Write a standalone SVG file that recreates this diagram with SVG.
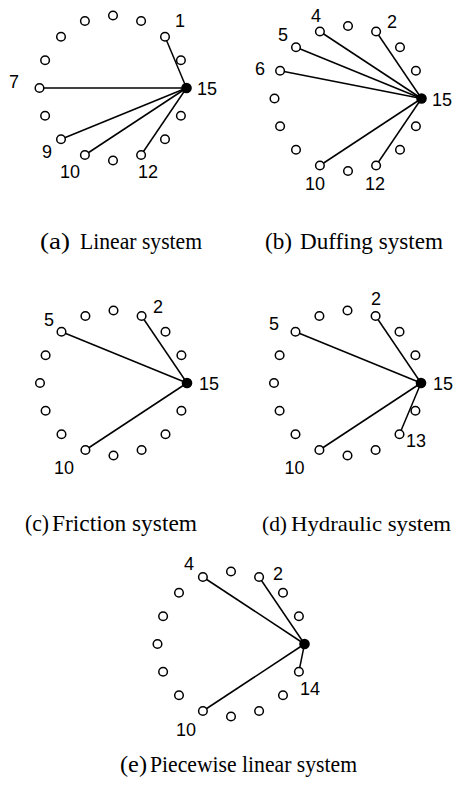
<svg xmlns="http://www.w3.org/2000/svg" width="456" height="785" viewBox="0 0 456 785">
<style>
.n{fill:#fff;stroke:#000;stroke-width:1.5}
.hub{fill:#000;stroke:none}
.e{stroke:#000;stroke-width:1.5;fill:none}
.l{font-family:"Liberation Sans",Arial,sans-serif;font-size:18px;fill:#000}
.c{font-family:"Liberation Serif","Times New Roman",serif;font-size:23px;fill:#000}
</style>
<rect width="456" height="785" fill="#fff"/>

<!-- Panel (a) -->
<g id="panel-a" transform="translate(113,88)">
<g id="a-connectors">
<line class="e" x1="73.5" y1="0" x2="52" y2="-51.3"/>
<line class="e" x1="73.5" y1="0" x2="-73.5" y2="0"/>
<line class="e" x1="73.5" y1="0" x2="-52" y2="51.3"/>
<line class="e" x1="73.5" y1="0" x2="-28.1" y2="67"/>
<line class="e" x1="73.5" y1="0" x2="28.1" y2="67"/>
</g>
<g id="a-n0"><circle class="n" cx="67.9" cy="-27.7" r="4.3"/></g>
<g id="a-n1"><circle class="n" cx="52" cy="-51.3" r="4.3"/><text class="l" x="67" y="-61" text-anchor="middle">1</text></g>
<g id="a-n2"><circle class="n" cx="28.1" cy="-67" r="4.3"/></g>
<g id="a-n3"><circle class="n" cx="0" cy="-72.5" r="4.3"/></g>
<g id="a-n4"><circle class="n" cx="-28.1" cy="-67" r="4.3"/></g>
<g id="a-n5"><circle class="n" cx="-52" cy="-51.3" r="4.3"/></g>
<g id="a-n6"><circle class="n" cx="-67.9" cy="-27.7" r="4.3"/></g>
<g id="a-n7"><circle class="n" cx="-73.5" cy="0" r="4.3"/><text class="l" x="-99" y="0" text-anchor="middle">7</text></g>
<g id="a-n8"><circle class="n" cx="-67.9" cy="27.7" r="4.3"/></g>
<g id="a-n9"><circle class="n" cx="-52" cy="51.3" r="4.3"/><text class="l" x="-66" y="70" text-anchor="middle">9</text></g>
<g id="a-n10"><circle class="n" cx="-28.1" cy="67" r="4.3"/><text class="l" x="-43" y="90" text-anchor="middle">10</text></g>
<g id="a-n11"><circle class="n" cx="0" cy="72.5" r="4.3"/></g>
<g id="a-n12"><circle class="n" cx="28.1" cy="67" r="4.3"/><text class="l" x="35" y="90" text-anchor="middle">12</text></g>
<g id="a-n13"><circle class="n" cx="52" cy="51.3" r="4.3"/></g>
<g id="a-n14"><circle class="n" cx="67.9" cy="27.7" r="4.3"/></g>
<g id="a-n15"><circle class="hub" cx="73.5" cy="0" r="5.3"/><text class="l" x="84" y="7">15</text></g>
</g>

<!-- Panel (b) -->
<g id="panel-b" transform="translate(348,98.5)">
<g id="b-connectors">
<line class="e" x1="73.5" y1="0" x2="28.1" y2="-67"/>
<line class="e" x1="73.5" y1="0" x2="-28.1" y2="-67"/>
<line class="e" x1="73.5" y1="0" x2="-52" y2="-51.3"/>
<line class="e" x1="73.5" y1="0" x2="-67.9" y2="-27.7"/>
<line class="e" x1="73.5" y1="0" x2="-28.1" y2="67"/>
<line class="e" x1="73.5" y1="0" x2="28.1" y2="67"/>
</g>
<g id="b-n0"><circle class="n" cx="67.9" cy="-27.7" r="4.3"/></g>
<g id="b-n1"><circle class="n" cx="52" cy="-51.3" r="4.3"/></g>
<g id="b-n2"><circle class="n" cx="28.1" cy="-67" r="4.3"/><text class="l" x="44" y="-70.5" text-anchor="middle">2</text></g>
<g id="b-n3"><circle class="n" cx="0" cy="-72.5" r="4.3"/></g>
<g id="b-n4"><circle class="n" cx="-28.1" cy="-67" r="4.3"/><text class="l" x="-32" y="-76.5" text-anchor="middle">4</text></g>
<g id="b-n5"><circle class="n" cx="-52" cy="-51.3" r="4.3"/><text class="l" x="-65" y="-57.5" text-anchor="middle">5</text></g>
<g id="b-n6"><circle class="n" cx="-67.9" cy="-27.7" r="4.3"/><text class="l" x="-88" y="-23.5" text-anchor="middle">6</text></g>
<g id="b-n7"><circle class="n" cx="-73.5" cy="0" r="4.3"/></g>
<g id="b-n8"><circle class="n" cx="-67.9" cy="27.7" r="4.3"/></g>
<g id="b-n9"><circle class="n" cx="-52" cy="51.3" r="4.3"/></g>
<g id="b-n10"><circle class="n" cx="-28.1" cy="67" r="4.3"/><text class="l" x="-33" y="91" text-anchor="middle">10</text></g>
<g id="b-n11"><circle class="n" cx="0" cy="72.5" r="4.3"/></g>
<g id="b-n12"><circle class="n" cx="28.1" cy="67" r="4.3"/><text class="l" x="27" y="91" text-anchor="middle">12</text></g>
<g id="b-n13"><circle class="n" cx="52" cy="51.3" r="4.3"/></g>
<g id="b-n14"><circle class="n" cx="67.9" cy="27.7" r="4.3"/></g>
<g id="b-n15"><circle class="hub" cx="73.5" cy="0" r="5.3"/><text class="l" x="84" y="7.5">15</text></g>
</g>

<!-- Panel (c) -->
<g id="panel-c" transform="translate(113.5,383)">
<g id="c-connectors">
<line class="e" x1="73.5" y1="0" x2="28.1" y2="-67"/>
<line class="e" x1="73.5" y1="0" x2="-52" y2="-51.3"/>
<line class="e" x1="73.5" y1="0" x2="-28.1" y2="67"/>
</g>
<g id="c-n0"><circle class="n" cx="67.9" cy="-27.7" r="4.3"/></g>
<g id="c-n1"><circle class="n" cx="52" cy="-51.3" r="4.3"/></g>
<g id="c-n2"><circle class="n" cx="28.1" cy="-67" r="4.3"/><text class="l" x="44.5" y="-70" text-anchor="middle">2</text></g>
<g id="c-n3"><circle class="n" cx="0" cy="-72.5" r="4.3"/></g>
<g id="c-n4"><circle class="n" cx="-28.1" cy="-67" r="4.3"/></g>
<g id="c-n5"><circle class="n" cx="-52" cy="-51.3" r="4.3"/><text class="l" x="-64.5" y="-57" text-anchor="middle">5</text></g>
<g id="c-n6"><circle class="n" cx="-67.9" cy="-27.7" r="4.3"/></g>
<g id="c-n7"><circle class="n" cx="-73.5" cy="0" r="4.3"/></g>
<g id="c-n8"><circle class="n" cx="-67.9" cy="27.7" r="4.3"/></g>
<g id="c-n9"><circle class="n" cx="-52" cy="51.3" r="4.3"/></g>
<g id="c-n10"><circle class="n" cx="-28.1" cy="67" r="4.3"/><text class="l" x="-49.5" y="91" text-anchor="middle">10</text></g>
<g id="c-n11"><circle class="n" cx="0" cy="72.5" r="4.3"/></g>
<g id="c-n12"><circle class="n" cx="28.1" cy="67" r="4.3"/></g>
<g id="c-n13"><circle class="n" cx="52" cy="51.3" r="4.3"/></g>
<g id="c-n14"><circle class="n" cx="67.9" cy="27.7" r="4.3"/></g>
<g id="c-n15"><circle class="hub" cx="73.5" cy="0" r="5.3"/><text class="l" x="85.5" y="7">15</text></g>
</g>

<!-- Panel (d) -->
<g id="panel-d" transform="translate(347.5,383)">
<g id="d-connectors">
<line class="e" x1="73.5" y1="0" x2="28.1" y2="-67"/>
<line class="e" x1="73.5" y1="0" x2="-52" y2="-51.3"/>
<line class="e" x1="73.5" y1="0" x2="-28.1" y2="67"/>
<line class="e" x1="73.5" y1="0" x2="52" y2="51.3"/>
</g>
<g id="d-n0"><circle class="n" cx="67.9" cy="-27.7" r="4.3"/></g>
<g id="d-n1"><circle class="n" cx="52" cy="-51.3" r="4.3"/></g>
<g id="d-n2"><circle class="n" cx="28.1" cy="-67" r="4.3"/><text class="l" x="28.5" y="-78" text-anchor="middle">2</text></g>
<g id="d-n3"><circle class="n" cx="0" cy="-72.5" r="4.3"/></g>
<g id="d-n4"><circle class="n" cx="-28.1" cy="-67" r="4.3"/></g>
<g id="d-n5"><circle class="n" cx="-52" cy="-51.3" r="4.3"/><text class="l" x="-73.5" y="-53" text-anchor="middle">5</text></g>
<g id="d-n6"><circle class="n" cx="-67.9" cy="-27.7" r="4.3"/></g>
<g id="d-n7"><circle class="n" cx="-73.5" cy="0" r="4.3"/></g>
<g id="d-n8"><circle class="n" cx="-67.9" cy="27.7" r="4.3"/></g>
<g id="d-n9"><circle class="n" cx="-52" cy="51.3" r="4.3"/></g>
<g id="d-n10"><circle class="n" cx="-28.1" cy="67" r="4.3"/><text class="l" x="-53" y="91" text-anchor="middle">10</text></g>
<g id="d-n11"><circle class="n" cx="0" cy="72.5" r="4.3"/></g>
<g id="d-n12"><circle class="n" cx="28.1" cy="67" r="4.3"/></g>
<g id="d-n13"><circle class="n" cx="52" cy="51.3" r="4.3"/><text class="l" x="68.5" y="64" text-anchor="middle">13</text></g>
<g id="d-n14"><circle class="n" cx="67.9" cy="27.7" r="4.3"/></g>
<g id="d-n15"><circle class="hub" cx="73.5" cy="0" r="5.3"/><text class="l" x="85.5" y="7">15</text></g>
</g>

<!-- Panel (e) -->
<g id="panel-e" transform="translate(231,644)">
<g id="e-connectors">
<line class="e" x1="73.5" y1="0" x2="28.1" y2="-67"/>
<line class="e" x1="73.5" y1="0" x2="-28.1" y2="-67"/>
<line class="e" x1="73.5" y1="0" x2="-28.1" y2="67"/>
<line class="e" x1="73.5" y1="0" x2="67.9" y2="27.7"/>
</g>
<g id="e-n0"><circle class="n" cx="67.9" cy="-27.7" r="4.3"/></g>
<g id="e-n1"><circle class="n" cx="52" cy="-51.3" r="4.3"/></g>
<g id="e-n2"><circle class="n" cx="28.1" cy="-67" r="4.3"/><text class="l" x="47" y="-64" text-anchor="middle">2</text></g>
<g id="e-n3"><circle class="n" cx="0" cy="-72.5" r="4.3"/></g>
<g id="e-n4"><circle class="n" cx="-28.1" cy="-67" r="4.3"/><text class="l" x="-42" y="-74" text-anchor="middle">4</text></g>
<g id="e-n5"><circle class="n" cx="-52" cy="-51.3" r="4.3"/></g>
<g id="e-n6"><circle class="n" cx="-67.9" cy="-27.7" r="4.3"/></g>
<g id="e-n7"><circle class="n" cx="-73.5" cy="0" r="4.3"/></g>
<g id="e-n8"><circle class="n" cx="-67.9" cy="27.7" r="4.3"/></g>
<g id="e-n9"><circle class="n" cx="-52" cy="51.3" r="4.3"/></g>
<g id="e-n10"><circle class="n" cx="-28.1" cy="67" r="4.3"/><text class="l" x="-45" y="92" text-anchor="middle">10</text></g>
<g id="e-n11"><circle class="n" cx="0" cy="72.5" r="4.3"/></g>
<g id="e-n12"><circle class="n" cx="28.1" cy="67" r="4.3"/></g>
<g id="e-n13"><circle class="n" cx="52" cy="51.3" r="4.3"/></g>
<g id="e-n14"><circle class="n" cx="67.9" cy="27.7" r="4.3"/><text class="l" x="79" y="51" text-anchor="middle">14</text></g>
<g id="e-n15"><circle class="hub" cx="73.5" cy="0" r="5.3"/></g>
</g>

<!-- Captions -->
<g id="captions">
<text class="c" y="249"><tspan x="40" textLength="30" lengthAdjust="spacingAndGlyphs">(a)</tspan> <tspan x="80" textLength="122" lengthAdjust="spacingAndGlyphs">Linear system</tspan></text>
<text class="c" y="249"><tspan x="265" textLength="27" lengthAdjust="spacingAndGlyphs">(b)</tspan> <tspan x="300" textLength="143" lengthAdjust="spacingAndGlyphs">Duffing system</tspan></text>
<text class="c" y="531"><tspan x="25" textLength="24" lengthAdjust="spacingAndGlyphs">(c)</tspan> <tspan x="52" textLength="145" lengthAdjust="spacingAndGlyphs">Friction system</tspan></text>
<text class="c" y="531" style="font-size:22px"><tspan x="262" textLength="25" lengthAdjust="spacingAndGlyphs">(d)</tspan> <tspan x="291" textLength="160" lengthAdjust="spacingAndGlyphs">Hydraulic system</tspan></text>
<text class="c" y="772"><tspan x="120" textLength="27" lengthAdjust="spacingAndGlyphs">(e)</tspan> <tspan x="150" textLength="207" lengthAdjust="spacingAndGlyphs">Piecewise linear system</tspan></text>
</g>
</svg>
